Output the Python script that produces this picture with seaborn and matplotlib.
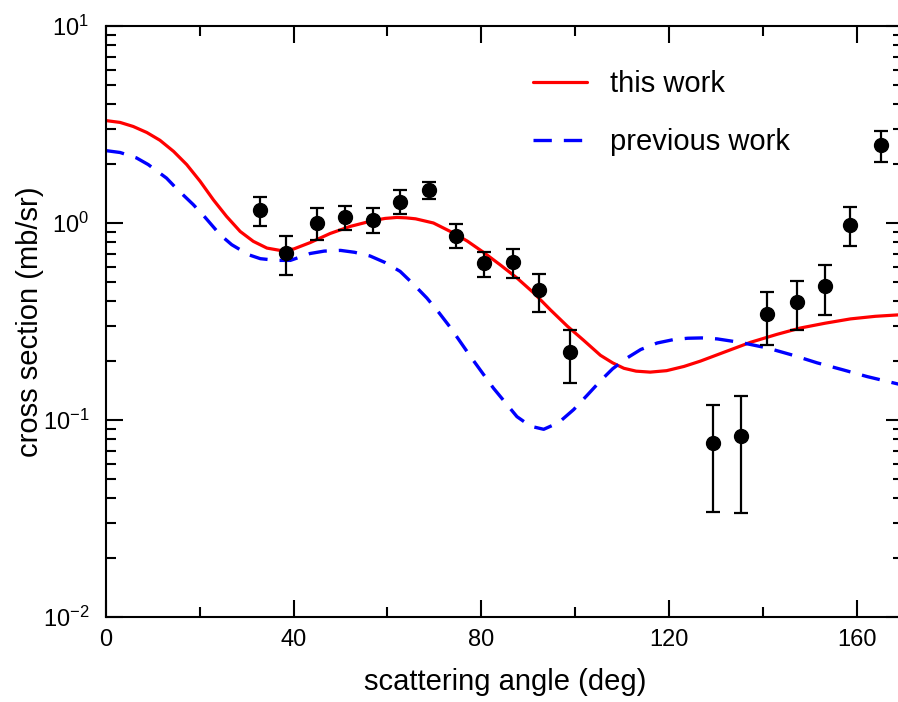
import numpy as np
import matplotlib
matplotlib.use("Agg")
import matplotlib.pyplot as plt
import seaborn as sns
from matplotlib.ticker import MultipleLocator, LogLocator, NullFormatter

# experimental points: angle, cross section, upper / lower error bar ends
exp_angle = [32.9, 38.4, 44.9, 51.0, 56.9, 62.7, 68.8, 74.7, 80.6, 86.7,
             92.4, 98.9, 129.3, 135.3, 141.0, 147.2, 153.2, 158.6, 165.1]
exp_xs = [1.16, 0.704, 1.0, 1.072, 1.039, 1.283, 1.476, 0.862, 0.627, 0.636,
          0.455, 0.221, 0.0764, 0.0826, 0.346, 0.399, 0.48, 0.98, 2.497]
exp_hi = [1.355, 0.855, 1.196, 1.224, 1.186, 1.476, 1.607, 0.984, 0.715, 0.738,
          0.553, 0.287, 0.119, 0.133, 0.448, 0.51, 0.614, 1.2, 2.94]
exp_lo = [0.96, 0.545, 0.816, 0.917, 0.89, 1.105, 1.324, 0.743, 0.535, 0.523,
          0.352, 0.155, 0.0342, 0.0337, 0.241, 0.287, 0.343, 0.767, 2.03]

# "this work" curve
this_angle = [0, 3.0, 5.8, 8.7, 11.5, 14.4, 17.2, 20.05, 22.9, 25.7, 28.6,
              31.4, 34.3, 37.1, 40, 43.5, 47.8, 52, 57, 59.5, 62, 64, 66,
              69.8, 73.4, 77, 80.5, 84, 87.6, 91.2, 94.7, 98.3, 101.8, 105.4,
              108, 110.4, 113, 116, 119.5, 123.2, 126.7, 132, 137.4, 143, 148,
              153.3, 158.7, 164, 170]
this_xs = [3.31, 3.24, 3.09, 2.88, 2.63, 2.31, 1.98, 1.63, 1.31, 1.08, 0.906,
           0.807, 0.746, 0.726, 0.738, 0.795, 0.885, 0.96, 1.03, 1.055, 1.067,
           1.062, 1.05, 1.0, 0.906, 0.81, 0.709, 0.614, 0.526, 0.441, 0.363,
           0.3, 0.254, 0.213, 0.195, 0.183, 0.177, 0.175, 0.178, 0.187, 0.199,
           0.222, 0.248, 0.272, 0.293, 0.31, 0.326, 0.336, 0.343]

# "previous work" curve
prev_angle = [0, 3, 6.5, 9.0, 12.9, 15.1, 18.6, 21.1, 24.3, 26.8, 30.4, 32.9,
              36.4, 39.3, 43.5, 46.5, 50, 53, 56.3, 59.5, 62.7, 65.5, 68.4,
              71, 73.4, 77.7, 82.6, 87.6, 90.5, 93.3, 96.5, 99.7, 102.5, 105.4,
              108, 111, 114, 117.5, 121, 124, 127, 130.3, 135.5, 141, 146.5,
              151.6, 157, 162.3, 170]
prev_xs = [2.33, 2.28, 2.14, 1.98, 1.69, 1.49, 1.24, 1.07, 0.873, 0.776, 0.69,
           0.659, 0.646, 0.646, 0.70, 0.72, 0.726, 0.71, 0.68, 0.63, 0.568,
           0.49, 0.416, 0.35, 0.295, 0.21, 0.145, 0.104, 0.093, 0.0897, 0.097,
           0.113, 0.133, 0.158, 0.182, 0.206, 0.228, 0.246, 0.256, 0.26, 0.261,
           0.258, 0.247, 0.232, 0.213, 0.195, 0.18, 0.166, 0.15]

sns.set_style("ticks", {"axes.edgecolor": "black", "text.color": "black",
                        "axes.labelcolor": "black", "xtick.color": "black",
                        "ytick.color": "black"})
plt.rcParams["font.family"] = ["Liberation Sans", "DejaVu Sans"]
plt.rcParams["axes.linewidth"] = 1.5

fig = plt.figure(figsize=(8.98, 7.02), dpi=100)
ax = fig.add_axes([106 / 898, 1 - 617 / 702, 797.5 / 898, 591 / 702])

sns.lineplot(x=this_angle, y=this_xs, color="#ff0000", lw=2.3, ax=ax,
             label="this work", sort=False)
sns.lineplot(x=prev_angle, y=prev_xs, color="#0000ff", lw=2.4, ax=ax,
             linestyle=(0, (5.5, 3.6)), label="previous work", sort=False)

yerr = [np.array(exp_xs) - np.array(exp_lo), np.array(exp_hi) - np.array(exp_xs)]
ax.errorbar(exp_angle, exp_xs, yerr=yerr, fmt="o", color="black", ms=10,
            elinewidth=1.6, capsize=5, capthick=1.6, zorder=5)

ax.set_yscale("log")
ax.set_xlim(0, 170)
ax.set_ylim(1e-2, 1e1)
ax.xaxis.set_major_locator(MultipleLocator(40))
ax.xaxis.set_minor_locator(MultipleLocator(20))
ax.set_yticks([1e-2, 1e-1, 1e0, 1e1],
              labels=[r"$\mathdefault{10^{-2}}$", r"$\mathdefault{10^{-1}}$",
                      r"$\mathdefault{10^{0}}$", r"$\mathdefault{10^{1}}$"])
ax.yaxis.set_minor_locator(LogLocator(base=10, subs=np.arange(2, 10)))
ax.yaxis.set_minor_formatter(NullFormatter())
ax.tick_params(which="both", direction="in", top=True, right=True, width=1.5)
ax.tick_params(which="major", length=12)
ax.tick_params(which="minor", length=7)
ax.tick_params(axis="x", labelsize=17, pad=9)
ax.tick_params(axis="y", labelsize=17, pad=12)

ax.set_xlabel("scattering angle (deg)", fontsize=21, labelpad=12)
ax.set_ylabel("cross section (mb/sr)", fontsize=21, labelpad=-1)

ax.legend(loc="upper left", bbox_to_anchor=(0.5354, 0.925), frameon=False,
          fontsize=21, handlelength=1.85, handletextpad=0.8, labelspacing=1.02,
          borderpad=0, borderaxespad=0)

fig.savefig("out.png", dpi=100)
